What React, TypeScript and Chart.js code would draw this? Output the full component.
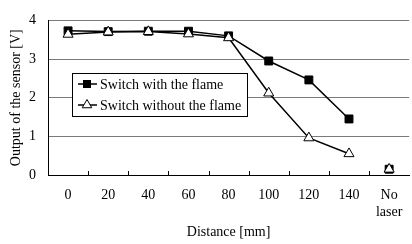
import React, { useEffect, useRef } from "react";
import { Chart, registerables } from "chart.js";

Chart.register(...registerables);

const categories: (string | string[])[] = ["0", "20", "40", "60", "80", "100", "120", "140", ["No", "laser"]];
const withFlame = [3.73, 3.71, 3.72, 3.72, 3.6, 2.95, 2.46, 1.45, 0.15];
const withoutFlame = [3.64, 3.7, 3.71, 3.65, 3.55, 2.12, 0.96, 0.55, 0.15];
const seriesNames = ["Switch with the flame", "Switch without the flame"];
const yTicks = [0, 1, 2, 3, 4];

const FONT = "'Liberation Serif', 'Times New Roman', serif";
const FS = 14;

const innerTicks = {
  id: "innerTicks",
  afterDraw(chart: any) {
    const { ctx, chartArea, scales } = chart;
    const xs = scales.x;
    ctx.save();
    ctx.strokeStyle = "#000";
    ctx.lineWidth = 1;
    for (let i = 1; i < categories.length; i++) {
      const x = Math.round((xs.getPixelForValue(i - 1) + xs.getPixelForValue(i)) / 2) + 0.5;
      ctx.beginPath();
      ctx.moveTo(x, chartArea.bottom);
      ctx.lineTo(x, chartArea.bottom - 4);
      ctx.stroke();
    }
    ctx.restore();
  },
};

const boxLegend = {
  id: "boxLegend",
  afterDraw(chart: any) {
    const { ctx } = chart;
    const left = 72.5, top = 73.5, w = 175, h = 43;
    ctx.save();
    ctx.fillStyle = "#fff";
    ctx.fillRect(left, top, w, h);
    ctx.strokeStyle = "#000";
    ctx.lineWidth = 1;
    ctx.strokeRect(left, top, w, h);
    const rows = [84, 105];
    rows.forEach((y, i) => {
      ctx.strokeStyle = "#000";
      ctx.lineWidth = 1.5;
      ctx.beginPath();
      ctx.moveTo(78, y);
      ctx.lineTo(97, y);
      ctx.stroke();
      const cx = 87;
      ctx.lineWidth = 1;
      if (i === 0) {
        ctx.fillStyle = "#000";
        ctx.fillRect(cx - 4, y - 4, 8, 8);
      } else {
        const r = 5.5;
        ctx.beginPath();
        ctx.moveTo(cx, y - r);
        ctx.lineTo(cx - r * 0.866, y + r * 0.5);
        ctx.lineTo(cx + r * 0.866, y + r * 0.5);
        ctx.closePath();
        ctx.fillStyle = "#fff";
        ctx.fill();
        ctx.stroke();
      }
      ctx.fillStyle = "#000";
      ctx.font = `${FS}px ${FONT}`;
      ctx.textBaseline = "middle";
      ctx.textAlign = "left";
      ctx.fillText(seriesNames[i], 100, y + 1);
    });
    ctx.restore();
  },
};

const lastGap = (c: any) => (c.p1DataIndex === categories.length - 1 ? "rgba(0,0,0,0)" : "#000");

export default function App() {
  const ref = useRef<HTMLCanvasElement>(null);
  useEffect(() => {
    document.body.style.margin = "0";
    document.body.style.overflow = "hidden";
    const chart = new Chart(ref.current!, {
      type: "line",
      data: {
        labels: categories as any,
        datasets: [
          {
            label: seriesNames[0],
            data: withFlame,
            borderColor: "#000",
            backgroundColor: "#000",
            borderWidth: 1.5,
            pointStyle: "rect",
            pointRadius: 5.6,
            pointBorderWidth: 1,
            pointBackgroundColor: "#000",
            pointBorderColor: "#000",
            segment: { borderColor: lastGap },
            order: 2,
          },
          {
            label: seriesNames[1],
            data: withoutFlame,
            borderColor: "#000",
            backgroundColor: "#fff",
            borderWidth: 1.5,
            pointStyle: "triangle",
            pointRadius: 5.8,
            pointBorderWidth: 1,
            pointBackgroundColor: "#fff",
            pointBorderColor: "#000",
            segment: { borderColor: lastGap },
            order: 1,
          },
        ],
      },
      options: {
        animation: false,
        responsive: false,
        maintainAspectRatio: false,
        layout: { padding: { top: 9, right: 0, left: 0, bottom: 0 } },
        plugins: { legend: { display: false }, tooltip: { enabled: false } },
        scales: {
          x: {
            type: "category",
            offset: true,
            grid: { display: false, drawTicks: false },
            border: { display: true, color: "#000", width: 1 },
            ticks: {
              color: "#000",
              font: { family: FONT, size: FS },
              padding: 12,
              maxRotation: 0,
              autoSkip: false,
            },
            title: {
              display: true,
              text: "Distance [mm]",
              color: "#000",
              font: { family: FONT, size: FS },
              padding: { top: 0, bottom: 3 },
            },
            afterFit(scale: any) {
              scale.height = 69;
            },
          },
          y: {
            min: 0,
            max: 4,
            afterBuildTicks(scale: any) {
              scale.ticks = yTicks.map((v) => ({ value: v }));
            },
            grid: {
              color: (c: any) => (c.tick && c.tick.value === 0 ? "rgba(0,0,0,0)" : "#7a7a7a"),
              lineWidth: 1,
              drawTicks: false,
            },
            border: { display: true, color: "#000", width: 1 },
            ticks: {
              color: "#000",
              font: { family: FONT, size: FS },
              padding: 12,
            },
            title: {
              display: true,
              text: "Output of the sensor [V]",
              color: "#000",
              font: { family: FONT, size: FS },
              padding: { top: 8, bottom: 0 },
            },
            afterFit(scale: any) {
              scale.width = 48;
            },
          },
        },
      },
      plugins: [innerTicks, boxLegend],
    });
    return () => chart.destroy();
  }, []);
  return (
    <div style={{ position: "fixed", left: 0, top: 0, width: 412, height: 244, overflow: "hidden", background: "#fff" }}>
      <canvas ref={ref} width={416} height={244} style={{ display: "block", width: 416, height: 244 }} />
    </div>
  );
}
